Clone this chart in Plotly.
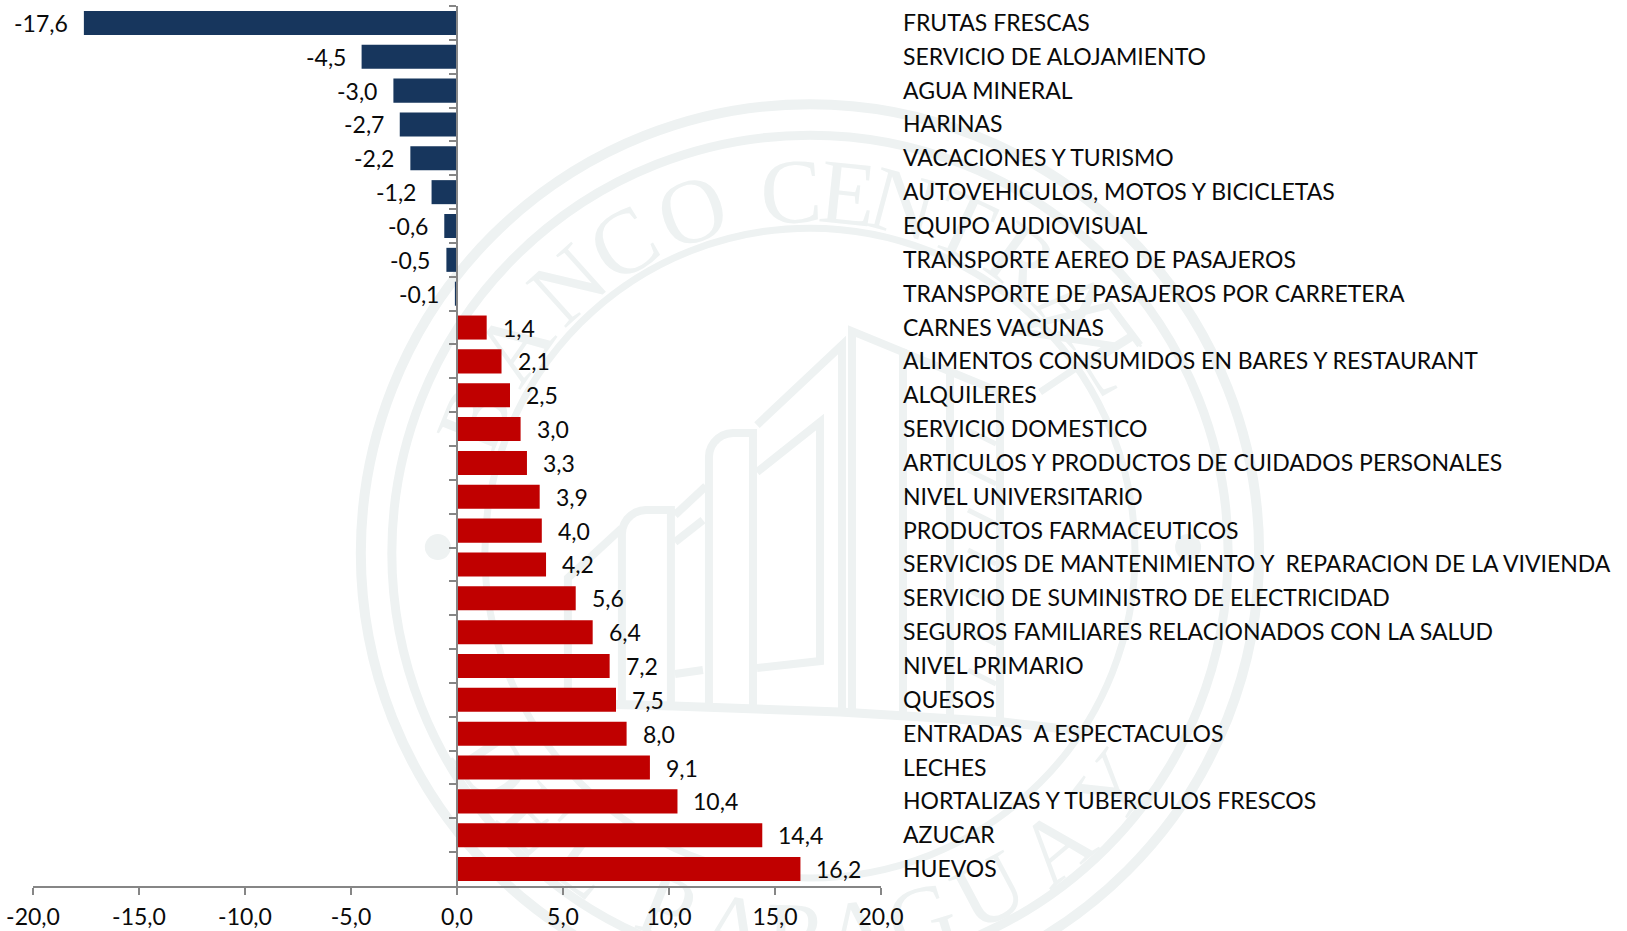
import math
import plotly.graph_objects as go

categories = [
    "FRUTAS FRESCAS", "SERVICIO DE ALOJAMIENTO", "AGUA MINERAL", "HARINAS",
    "VACACIONES Y TURISMO", "AUTOVEHICULOS, MOTOS Y BICICLETAS", "EQUIPO AUDIOVISUAL",
    "TRANSPORTE AEREO DE PASAJEROS", "TRANSPORTE DE PASAJEROS POR CARRETERA",
    "CARNES VACUNAS", "ALIMENTOS CONSUMIDOS EN BARES Y RESTAURANT", "ALQUILERES",
    "SERVICIO DOMESTICO", "ARTICULOS Y PRODUCTOS DE CUIDADOS PERSONALES",
    "NIVEL UNIVERSITARIO", "PRODUCTOS FARMACEUTICOS",
    "SERVICIOS DE MANTENIMIENTO Y  REPARACION DE LA VIVIENDA",
    "SERVICIO DE SUMINISTRO DE ELECTRICIDAD", "SEGUROS FAMILIARES RELACIONADOS CON LA SALUD",
    "NIVEL PRIMARIO", "QUESOS", "ENTRADAS  A ESPECTACULOS", "LECHES",
    "HORTALIZAS Y TUBERCULOS FRESCOS", "AZUCAR", "HUEVOS",
]
values = [-17.6, -4.5, -3.0, -2.7, -2.2, -1.2, -0.6, -0.5, -0.1,
          1.4, 2.1, 2.5, 3.0, 3.3, 3.9, 4.0, 4.2, 5.6, 6.4, 7.2, 7.5, 8.0, 9.1, 10.4, 14.4, 16.2]
x_ticks = [-20, -15, -10, -5, 0, 5, 10, 15, 20]

W, H = 1627, 931
L, R, T, B = 33.3, 881.0, 5.8, 886.0
FONT = "Lato"
TXT = "#0a0a0a"
NAVY, RED, AXIS, PALE = "#17365D", "#C00000", "#868686", "#EEF2F2"
FS = 23


def comma(v):
    return f"{v:.1f}".replace(".", ",")


def fx(px):
    return (px - L) / (R - L)


def fy(py):
    return (B - py) / (B - T)


shapes = []
CX, CY = 810, 553


def ring(r, w, fill=None):
    shapes.append(dict(type="circle", xref="paper", yref="paper", layer="below",
                       x0=fx(CX - r), x1=fx(CX + r), y0=fy(CY + r), y1=fy(CY - r),
                       line=dict(color=PALE, width=w), fillcolor=fill))


ring(449, 10)
ring(418, 9)
ring(325, 7)
for dx in (-372, 378):
    r = 13
    shapes.append(dict(type="circle", xref="paper", yref="paper", layer="below",
                       x0=fx(CX + dx - r), x1=fx(CX + dx + r), y0=fy(CY - 6 + r), y1=fy(CY - 6 - r),
                       line=dict(width=0), fillcolor=PALE))


def letter(ch, px, py, ang):
    shapes.append(dict(type="rect", xref="paper", yref="paper", layer="below",
                       x0=fx(px - 30), x1=fx(px + 30), y0=fy(py + 30), y1=fy(py - 30),
                       line=dict(width=0), fillcolor="rgba(0,0,0,0)",
                       label=dict(text=ch, textangle=ang, textposition="middle center",
                                  font=dict(family="Liberation Serif", size=92, color=PALE))))


seal_top = list(zip("BANCOCENTRAL", [-68, -55, -42, -31, -19, -3, 6, 15, 25, 36, 47, 58]))
seal_bottom = list(zip("DELPARAGUAY", [-56, -46, -36, -22, -11.5, -2, 7, 17, 28, 40, 52]))
RT = 372
for ch, a in seal_top:
    t = math.radians(a)
    letter(ch, CX + RT * math.sin(t), CY - RT * math.cos(t), a)
for ch, a in seal_bottom:
    t = math.radians(a)
    letter(ch, CX + RT * math.sin(t), CY + RT * math.cos(t), -a)


def path(points, width=8):
    d = "M " + " L ".join(f"{fx(x):.5f} {fy(y):.5f}" for x, y in points)
    shapes.append(dict(type="path", xref="paper", yref="paper", layer="below", path=d,
                       line=dict(color=PALE, width=width), fillcolor="rgba(0,0,0,0)"))


def arch(xl, xr, top, base, rad):
    pts = [(xl, base), (xl, top + rad)]
    for i in range(1, 7):
        a = math.pi / 2 * i / 7
        pts.append((xl + rad - rad * math.cos(a), top + rad - rad * math.sin(a)))
    pts += [(xl + rad, top), (xr, top), (xr, base)]
    path(pts)


# seal building
path([(560, 703), (673, 706), (840, 712), (1003, 722), (1090, 732)], 9)
arch(622, 671, 510, 706, 24)
arch(709, 753, 433, 708, 24)
path([(568, 704), (568, 578), (622, 528)])
path([(675, 515), (706, 486)])
path([(675, 542), (703, 520)])
path([(675, 674), (703, 670)])
path([(757, 425), (842, 345), (842, 712)])
path([(757, 472), (820, 422), (820, 661), (757, 668)])
path([(852, 712), (852, 331), (903, 352), (903, 716)])
path([(903, 352), (1000, 392), (1000, 720)])
path([(950, 372), (950, 718)])
path([(1010, 330), (1110, 305), (1140, 345)], 7)
path([(1040, 392), (1110, 345), (1010, 330)], 7)
for y0 in (430, 470, 510, 550, 590, 630, 670):
    path([(968, y0), (996, y0 + 14)], 5)

fig = go.Figure(go.Bar(
    x=values, y=categories, orientation="h",
    marker=dict(color=[NAVY if v < 0 else RED for v in values], line=dict(width=0)),
    showlegend=False, hoverinfo="skip",
))

ann = []
for c, v in zip(categories, values):
    ann.append(dict(x=v, y=c, xref="x", yref="y", text=comma(v), showarrow=False,
                    xanchor="right" if v < 0 else "left", xshift=-14 if v < 0 else 14, yshift=0,
                    font=dict(family=FONT, size=FS, color=TXT)))
    ann.append(dict(x=fx(901), y=c, xref="paper", yref="y", text=c.replace("  ", "\u00a0 "), showarrow=False,
                    xanchor="left", yshift=1, font=dict(family=FONT, size=FS, color=TXT)))

fig.update_layout(
    width=W, height=H, autosize=False,
    margin=dict(l=L, r=W - R, t=T, b=H - B, pad=0),
    paper_bgcolor="white", plot_bgcolor="rgba(0,0,0,0)",
    bargap=0.29, shapes=shapes, annotations=ann,
    font=dict(family=FONT, size=FS, color=TXT),
    xaxis=dict(range=[-20, 20], tickvals=x_ticks, ticktext=[comma(v) for v in x_ticks],
               showgrid=False, zeroline=False, showline=True, linecolor=AXIS, linewidth=2,
               ticks="outside", ticklen=7, tickwidth=2, tickcolor=AXIS, automargin=False,
               ticklabelstandoff=2, fixedrange=True),
    yaxis=dict(type="category", categoryorder="array", categoryarray=categories,
               range=[25.5, -0.5], anchor="free", position=0.5, side="left", automargin=False,
               tickson="boundaries", ticks="outside", ticklen=7, tickwidth=2, tickcolor=AXIS,
               showline=True, linecolor=AXIS, linewidth=2, showticklabels=False,
               showgrid=False, zeroline=False, fixedrange=True),
)

fig.write_html("out.html", config=dict(displayModeBar=False),
               post_script="document.body.style.margin='0';document.body.style.overflow='hidden';")
